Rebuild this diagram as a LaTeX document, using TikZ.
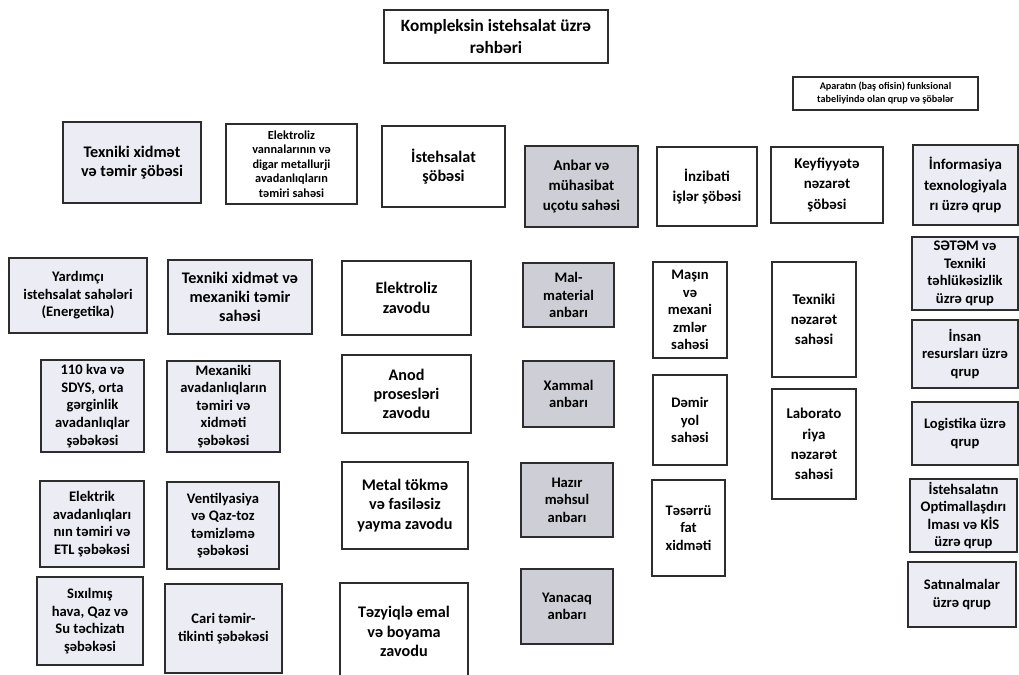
\documentclass[tikz,border=0pt]{standalone}
\usepackage{fontspec}
\setmainfont{Carlito}
\definecolor{lavfill}{RGB}{236,236,245}
\definecolor{anbarfill}{RGB}{206,206,214}
\definecolor{edge}{RGB}{45,45,45}
\begin{document}
\begin{tikzpicture}[x=0.02cm,y=-0.02cm,
        box/.style={draw=edge,line width=0.8pt,fill=white,align=center,inner sep=1pt,
            font=\bfseries\fontsize{8.3}{10}\selectfont},
        wh/.style 2 args={minimum width=#1*0.02cm,minimum height=#2*0.02cm},
        lav/.style={box,fill=lavfill},
        anbar/.style={box,fill=anbarfill},
        big/.style={font=\bfseries\fontsize{9.2}{11}\selectfont},
        loose/.style={font=\bfseries\fontsize{8.5}{11.5}\selectfont},
        small/.style={font=\bfseries\fontsize{7}{8.3}\selectfont}]
    \useasboundingbox (0,0) rectangle (1019,675);
    \node[box,wh={224}{53},font=\bfseries\fontsize{9.8}{12.4}\selectfont] (chief) at (496,36.5) {Kompleksin istehsalat üzrə\\rəhbəri};
    \node[box,wh={185}{33},font=\bfseries\fontsize{5.8}{7.4}\selectfont] (aparat) at (885.5,93.5) {Aparatın (baş ofisin) funksional\\tabeliyində olan qrup və şöbələr};
    % first row
    \node[lav,big,wh={138}{81}] (txsobe) at (132,162.5) {Texniki xidmət\\və təmir şöbəsi};
    \node[box,small,wh={131}{80}] (vanna) at (291.5,164) {Elektroliz\\vannalarının və\\digar metallurji\\avadanlıqların\\təmiri sahəsi};
    \node[box,big,wh={123}{81}] (istsobe) at (443.5,166.5) {İstehsalat\\şöbəsi};
    \node[anbar,loose,wh={113}{81}] (anbar) at (581.5,186.5) {Anbar və\\mühasibat\\uçotu sahəsi};
    \node[box,loose,wh={100}{79}] (inzibati) at (707,186.5) {İnzibati\\işlər şöbəsi};
    \node[box,loose,wh={112}{76}] (keyf) at (827,185) {Keyfiyyətə\\nəzarət\\şöbəsi};
    \node[lav,loose,wh={105}{80}] (infor) at (965.5,185) {İnformasiya\\texnologiyala\\rı üzrə qrup};
    % left columns
    \node[lav,wh={138}{75}] (yardimci) at (78,295.5) {Yardımçı\\istehsalat sahələri\\(Energetika)};
    \node[lav,wh={103}{92}] (kva) at (92.5,406) {110 kva və\\SDYS, orta\\gərginlik\\avadanlıqlar\\şəbəkəsi};
    \node[lav,wh={104}{86}] (elektrik) at (92,524) {Elektrik\\avadanlıqları\\nın təmiri və\\ETL şəbəkəsi};
    \node[lav,wh={106}{88}] (sixilmis) at (90,621) {Sıxılmış\\hava, Qaz və\\Su təchizatı\\şəbəkəsi};
    \node[lav,big,wh={144}{74}] (txsahe) at (240,297) {Texniki xidmət və\\mexaniki təmir\\sahəsi};
    \node[lav,wh={113}{91}] (mexaniki) at (223.5,406.5) {Mexaniki\\avadanlıqların\\təmiri və\\xidməti\\şəbəkəsi};
    \node[lav,wh={112}{87}] (vent) at (223,525.5) {Ventilyasiya\\və Qaz-toz\\təmizləmə\\şəbəkəsi};
    \node[lav,wh={117}{89}] (cari) at (223.5,628.5) {Cari təmir-\\tikinti şəbəkəsi};
    % zavodlar
    \node[box,big,wh={129}{74}] (elzavod) at (406.5,298) {Elektroliz\\zavodu};
    \node[box,big,wh={129}{78}] (anod) at (406.5,394) {Anod\\prosesləri\\zavodu};
    \node[box,big,wh={126}{87}] (metal) at (405,505.5) {Metal tökmə\\və fasiləsiz\\yayma zavodu};
    \node[box,big,wh={128}{97}] (tezyiq) at (404,631.5) {Təzyiqlə emal\\və boyama\\zavodu};
    % anbarlar
    \node[anbar,wh={91}{64}] (malmat) at (568.5,295) {Mal-\\material\\anbarı};
    \node[anbar,wh={91}{66}] (xammal) at (568.5,394) {Xammal\\anbarı};
    \node[anbar,wh={92}{74}] (hazir) at (567,500) {Hazır\\məhsul\\anbarı};
    \node[anbar,wh={92}{75}] (yanacaq) at (567,606.5) {Yanacaq\\anbarı};
    % inzibati
    \node[box,wh={74}{96}] (masin) at (690,310) {Maşın\\və\\mexani\\zmlər\\sahəsi};
    \node[box,wh={74}{90}] (demiryol) at (690,420) {Dəmir\\yol\\sahəsi};
    \node[box,wh={73}{96}] (tesarruf) at (688.5,528) {Təsərrü\\fat\\xidməti};
    % keyfiyyet
    \node[box,loose,wh={84}{115}] (txnezaret) at (814,319.5) {Texniki\\nəzarət\\sahəsi};
    \node[box,loose,wh={84}{110}] (lab) at (814,444) {Laborato\\riya\\nəzarət\\sahəsi};
    % aparat qruplari
    \node[lav,wh={106}{73}] (setem) at (965,273.5) {SƏTƏM və\\Texniki\\təhlükəsizlik\\üzrə qrup};
    \node[lav,wh={106}{68}] (insan) at (965,354) {İnsan\\resursları üzrə\\qrup};
    \node[lav,wh={106}{63}] (logistika) at (965,433.5) {Logistika üzrə\\qrup};
    \node[lav,wh={107}{73}] (optim) at (963.5,515.5) {İstehsalatın\\Optimallaşdırı\\lması və KİS\\üzrə qrup};
    \node[lav,wh={108}{65}] (satin) at (962,594.5) {Satınalmalar\\üzrə qrup};
\end{tikzpicture}
\end{document}
